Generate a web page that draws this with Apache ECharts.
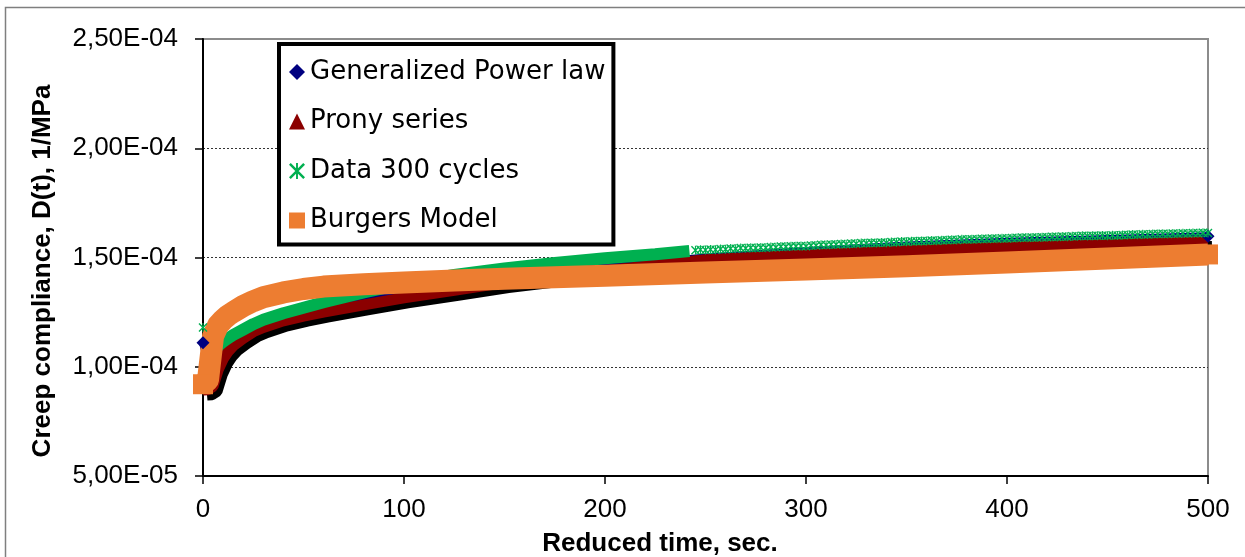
<!DOCTYPE html>
<html><head><meta charset="utf-8">
<script src="https://cdn.jsdelivr.net/npm/echarts@6/dist/echarts.min.js"></script>
<style>html,body{margin:0;padding:0;background:#fff}#c{width:1245px;height:557px}</style>
</head><body><div id="c"></div>
<script>
// ---- data (compliance values in units of 1E-04 1/MPa) ----
const xTicks = [0, 100, 200, 300, 400, 500];
const yTicks = [5e-5, 1e-4, 1.5e-4, 2e-4, 2.5e-4];

const gplT = [0, 2.5, 5, 10, 20, 30, 40, 60, 80, 100, 150, 200, 250, 300, 350, 400, 450, 500];
const gplD = [1.11, 1.02, 1.05, 1.105, 1.16, 1.195, 1.225, 1.27, 1.31, 1.345, 1.41, 1.455, 1.50, 1.53, 1.555, 1.572, 1.585, 1.597];

const pronyT = [0, 2.5, 5, 7.5, 10, 12.5, 15, 20, 25, 30, 40, 50, 60, 80, 100, 125, 150, 200, 250, 300, 350, 400, 450, 500];
const pronyD = [0.893, 0.895, 0.91, 0.985, 1.035, 1.07, 1.095, 1.13, 1.16, 1.18, 1.21, 1.232, 1.25, 1.283, 1.315, 1.35, 1.385, 1.44, 1.49, 1.512, 1.533, 1.548, 1.561, 1.573];

const dataDenseT = [2.5, 5, 7.5, 10, 12.5, 15, 20, 25, 30, 40, 50, 60, 80, 100, 125, 150, 175, 200, 225, 242];
const dataDenseD = [1.00, 1.06, 1.095, 1.115, 1.13, 1.145, 1.17, 1.195, 1.215, 1.245, 1.27, 1.295, 1.34, 1.38, 1.42, 1.45, 1.475, 1.497, 1.515, 1.53];

const dataSparseT = [0,
 245, 247.5, 250, 252.5, 255, 257.5, 260, 262.5, 265, 267.5, 270, 272.5, 275, 277.5, 280, 282.5, 285, 287.5, 290, 292.5, 295, 297.5, 300,
 302.5, 305, 307.5, 310, 312.5, 315, 317.5, 320, 322.5, 325, 327.5, 330, 332.5, 335, 337.5, 340, 342.5, 345, 347.5, 350,
 352.5, 355, 357.5, 360, 362.5, 365, 367.5, 370, 372.5, 375, 377.5, 380, 382.5, 385, 387.5, 390, 392.5, 395, 397.5, 400,
 402.5, 405, 407.5, 410, 412.5, 415, 417.5, 420, 422.5, 425, 427.5, 430, 432.5, 435, 437.5, 440, 442.5, 445, 447.5, 450,
 452.5, 455, 457.5, 460, 462.5, 465, 467.5, 470, 472.5, 475, 477.5, 480, 482.5, 485, 487.5, 490, 492.5, 495, 497.5, 500];
const dataSparseD = [1.18,
 1.533, 1.536, 1.534, 1.537, 1.536, 1.539, 1.538, 1.541, 1.540, 1.543, 1.542, 1.545, 1.544, 1.546, 1.545, 1.548, 1.547, 1.550, 1.549, 1.552, 1.551, 1.553, 1.552,
 1.555, 1.555, 1.558, 1.557, 1.560, 1.559, 1.562, 1.561, 1.564, 1.563, 1.566, 1.565, 1.567, 1.566, 1.569, 1.568, 1.571, 1.570, 1.573, 1.572,
 1.574, 1.574, 1.576, 1.575, 1.578, 1.577, 1.579, 1.579, 1.581, 1.580, 1.583, 1.582, 1.584, 1.583, 1.586, 1.585, 1.587, 1.586, 1.588, 1.587,
 1.589, 1.589, 1.591, 1.590, 1.592, 1.591, 1.593, 1.593, 1.595, 1.594, 1.596, 1.595, 1.597, 1.597, 1.599, 1.598, 1.600, 1.599, 1.601, 1.600,
 1.602, 1.601, 1.603, 1.603, 1.605, 1.604, 1.606, 1.605, 1.607, 1.607, 1.609, 1.608, 1.610, 1.609, 1.611, 1.610, 1.612, 1.611, 1.613, 1.612];

const burgersT = [0, 2.5, 5, 7.5, 10, 12.5, 15, 20, 25, 30, 40, 50, 60, 80, 100, 125, 150, 200, 250, 300, 350, 400, 450, 500];
const burgersD = [0.92, 0.94, 1.14, 1.19, 1.215, 1.235, 1.25, 1.278, 1.30, 1.318, 1.34, 1.356, 1.367, 1.378, 1.386, 1.395, 1.403, 1.417, 1.431, 1.445, 1.46, 1.477, 1.495, 1.514];

const names = ['Generalized Power law', 'Prony series', 'Data 300 cycles', 'Burgers Model'];
const UNIT = 1e-4;
const pairs = (t, d) => t.map((v, i) => [v, d[i] * UNIT]);
// symbol only on the end points of a series
const endMarked = (t, d, sym) => t.map((v, i) => ({value: [v, d[i] * UNIT], symbol: (i === 0 || i === t.length - 1) ? sym : 'none'}));

const ASTER = 'path://M0,1.1L1.1,0L10,8.9L8.9,10Z M8.9,0L10,1.1L1.1,10L0,8.9Z M4.4,0L5.6,0L5.6,10L4.4,10Z';

function fmtE(v) {
  if (v <= 0) return '0';
  let e = Math.floor(Math.log10(v) + 1e-9);
  let m = v / Math.pow(10, e);
  return m.toFixed(2).replace('.', ',') + 'E' + (e < 0 ? '-' : '+') + String(Math.abs(e)).padStart(2, '0');
}

const chart = echarts.init(document.getElementById('c'), null, {renderer: 'canvas'});
const FONT = 'Liberation Sans, Arial, sans-serif';
const NONE = 'rgba(0,0,0,0)';
chart.setOption({
  animation: false,
  backgroundColor: '#fff',
  grid: {left: 203, right: 37, top: 39, bottom: 81, show: true, borderColor: '#8c8c8c', borderWidth: 2, backgroundColor: 'transparent'},
  xAxis: {
    type: 'value', min: xTicks[0], max: xTicks[xTicks.length - 1], interval: 100,
    axisLine: {lineStyle: {color: '#000', width: 2}},
    axisTick: {show: true, length: 8, lineStyle: {color: '#000', width: 1.5}},
    axisLabel: {fontSize: 26, color: '#000', fontFamily: FONT, margin: 21},
    splitLine: {show: false}
  },
  yAxis: {
    type: 'value', min: yTicks[0], max: yTicks[yTicks.length - 1], interval: 5e-5,
    axisLine: {show: true, lineStyle: {color: '#000', width: 2}},
    axisTick: {show: true, length: 8, lineStyle: {color: '#000', width: 1.5}},
    axisLabel: {fontSize: 26, color: '#000', fontFamily: FONT, margin: 25, formatter: fmtE},
    splitLine: {show: true, lineStyle: {color: [NONE, '#333', '#333', '#333', NONE], width: 1, type: [2, 2]}}
  },
  legend: {
    orient: 'vertical', left: 279, top: 44,
    backgroundColor: '#fff', borderColor: '#000', borderWidth: 4,
    padding: [13, 8, 9, 10], itemGap: 19.5, itemWidth: 16, itemHeight: 16,
    lineStyle: {opacity: 0},
    textStyle: {fontSize: 26, color: '#000', fontFamily: 'DejaVu Sans', lineHeight: 30},
    data: [
      {name: names[0], icon: 'diamond', itemStyle: {color: '#000080'}},
      {name: names[1], icon: 'triangle', itemStyle: {color: '#8B0000'}},
      {name: names[2], icon: ASTER, itemStyle: {color: '#00B050'}},
      {name: names[3], icon: 'rect', itemStyle: {color: '#ED7D31'}}
    ]
  },
  graphic: [
    {type: 'rect', shape: {x: 5.5, y: 7.5, width: 1260, height: 560}, style: {fill: 'none', stroke: '#7f7f7f', lineWidth: 1.5}, silent: true},
    {type: 'text', x: 660, y: 544, style: {text: 'Reduced time, sec.', font: 'bold 26px ' + FONT, fill: '#000', align: 'center', verticalAlign: 'middle'}},
    {type: 'text', x: 43, y: 271, rotation: Math.PI / 2, style: {text: 'Creep compliance, D(t), 1/MPa', font: 'bold 26px ' + FONT, fill: '#000', align: 'center', verticalAlign: 'middle'}}
  ],
  series: [
    {
      name: names[0], type: 'line', data: endMarked(gplT, gplD, 'diamond'), clip: false,
      lineStyle: {color: '#000080', width: 8}, itemStyle: {color: '#000080'},
      symbolSize: 13, showSymbol: true
    },
    {
      name: names[1], type: 'line', data: pairs(pronyT, pronyD), clip: false,
      showSymbol: false, symbol: 'triangle',
      lineStyle: {color: '#8B0000', width: 11, shadowColor: '#000', shadowBlur: 0, shadowOffsetX: 4, shadowOffsetY: 5},
      itemStyle: {color: '#8B0000'}
    },
    {
      name: names[2], type: 'line', data: pairs(dataDenseT, dataDenseD), clip: false,
      showSymbol: false, lineStyle: {color: '#00B050', width: 12}, itemStyle: {color: '#00B050'}
    },
    {
      name: names[2], type: 'line', data: pairs(dataSparseT, dataSparseD), clip: false,
      lineStyle: {width: 0, opacity: 0}, symbol: ASTER, symbolSize: 9, showSymbol: true,
      itemStyle: {color: '#00B050'}
    },
    {
      name: names[3], type: 'line', data: endMarked(burgersT, burgersD, 'rect'), clip: false,
      lineStyle: {color: '#ED7D31', width: 22, cap: 'butt', join: 'round'},
      itemStyle: {color: '#ED7D31'}, symbolSize: 20, showSymbol: true
    }
  ]
});
</script></body></html>
